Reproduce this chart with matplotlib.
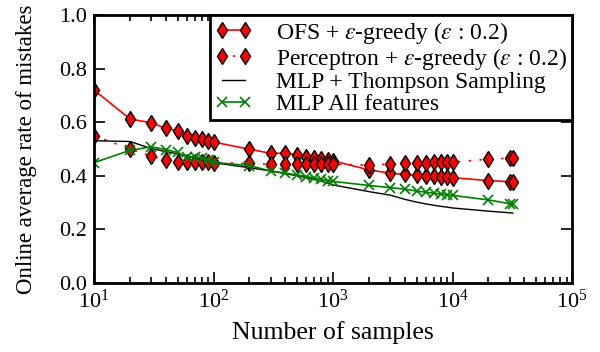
import numpy as np
import matplotlib
matplotlib.use("Agg")
import matplotlib.pyplot as plt

plt.rcParams['font.family'] = 'serif'
plt.rcParams['font.serif'] = ['Liberation Serif', 'DejaVu Serif']
plt.rcParams['mathtext.fontset'] = 'stix'

# number of samples (x positions shared by all curves)
samples = [10, 20, 30, 40, 50, 60, 70, 80, 90, 100,
           200, 300, 400, 500, 600, 700, 800, 900, 1000,
           2000, 3000, 4000, 5000, 6000, 7000, 8000, 9000, 10000,
           20000, 30000, 32000]

ofs = [0.72, 0.612, 0.598, 0.577, 0.568, 0.549, 0.541, 0.536, 0.531, 0.526,
       0.499, 0.484, 0.484, 0.478, 0.471, 0.465, 0.461, 0.459, 0.456,
       0.422, 0.41, 0.405, 0.402, 0.40, 0.399, 0.397, 0.395, 0.393,
       0.382, 0.378, 0.378]

perceptron = [0.55, 0.50, 0.474, 0.458, 0.45, 0.452, 0.451, 0.45, 0.45, 0.449,
              0.446, 0.443, 0.443, 0.443, 0.443, 0.443, 0.443, 0.443, 0.443,
              0.44, 0.444, 0.446, 0.447, 0.449, 0.45, 0.45, 0.45, 0.451,
              0.462, 0.466, 0.466]

mlp_ts = [0.531, 0.528, 0.502, 0.49, 0.482, 0.473, 0.466, 0.46, 0.455, 0.449,
          0.43, 0.418, 0.408, 0.40, 0.393, 0.386, 0.38, 0.373, 0.366,
          0.341, 0.328, 0.312, 0.302, 0.295, 0.29, 0.286, 0.283, 0.28,
          0.268, 0.262, 0.261]

mlp_all = [0.449, 0.495, 0.508, 0.498, 0.487, 0.469, 0.472, 0.465, 0.459, 0.45,
           0.438, 0.418, 0.41, 0.403, 0.397, 0.392, 0.387, 0.382, 0.379,
           0.364, 0.356, 0.35, 0.343, 0.339, 0.335, 0.332, 0.329, 0.327,
           0.31, 0.296, 0.294]

labels = [r'OFS + $\varepsilon$-greedy ($\varepsilon$ : 0.2)',
          r'Perceptron + $\varepsilon$-greedy ($\varepsilon$ : 0.2)',
          'MLP + Thompson Sampling',
          'MLP All features']

fig = plt.figure(figsize=(6.0, 3.52), dpi=100)
ax = fig.add_axes([94/600, 1-283/352, (572-94)/600, (283-15)/352])

ax.plot(samples, ofs, color='red', lw=1.2, marker='d', ms=8,
        mfc='red', mec='black', mew=1.0, label=labels[0])
ax.plot(samples, perceptron, color='red', lw=1.2, ls=(0, (1.5, 5)), marker='d', ms=8,
        mfc='red', mec='black', mew=1.0, label=labels[1])
ax.plot(samples, mlp_ts, color='black', lw=1.0, label=labels[2])
ax.plot(samples, mlp_all, color='green', lw=1.2, marker='x', ms=7,
        mew=1.2, label=labels[3])

ax.set_xscale('log')
ax.set_xlim(10, 1e5)
ax.set_ylim(0, 1.0)
ax.set_yticks(np.arange(0, 1.01, 0.2))
ax.set_yticklabels(['%.1f' % v for v in np.arange(0, 1.01, 0.2)])

ax.tick_params(which='both', direction='in', top=True, right=True, labelsize=16, width=1.2)
ax.tick_params(which='major', length=8, pad=5)
ax.tick_params(which='minor', length=4)
for s in ax.spines.values():
    s.set_linewidth(2)

ax.set_xlabel('Number of samples', fontsize=18.5, labelpad=6)
ax.set_ylabel('Online average rate of mistakes', fontsize=16.5, labelpad=16)

leg = ax.legend(loc='upper right', borderaxespad=0, numpoints=2, fontsize=17,
                fancybox=False, framealpha=1, edgecolor='black',
                handlelength=1.6, handletextpad=1.0, labelspacing=0.0,
                borderpad=0.2)
leg.get_frame().set_linewidth(2)

fig.savefig('out.png', dpi=100)
